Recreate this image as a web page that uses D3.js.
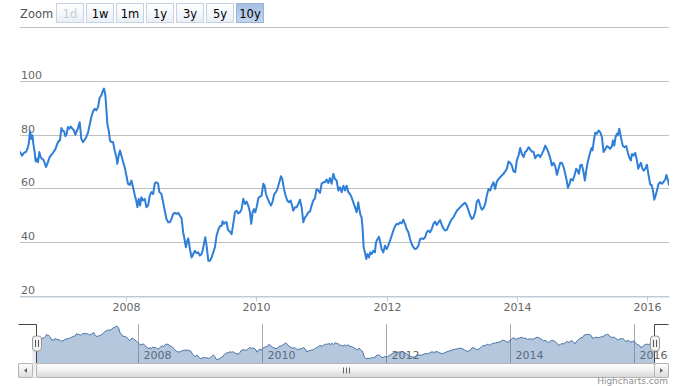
<!DOCTYPE html>
<html><head><meta charset="utf-8">
<script src="https://cdn.jsdelivr.net/npm/d3@7"></script>
<style>
html,body{margin:0;padding:0;background:#fff;}
svg{display:block;font-family:"DejaVu Sans",Verdana,sans-serif;}
</style></head><body>
<svg id="c" width="688" height="386"></svg>
<script>
// decimal-year dates and values
const dates = [
2006.358,2006.389,2006.419,2006.455,2006.481,2006.496,2006.512,2006.532,2006.548,2006.563,2006.583,2006.599,2006.619,2006.635,2006.655,2006.676,2006.696,2006.717,2006.737,2006.758,2006.778,2006.814,2006.865,2006.901,2006.932,2006.953,2006.973,2006.994,2007.014,2007.035,2007.055,2007.076,2007.096,2007.117,2007.137,2007.163,2007.189,2007.209,2007.230,2007.250,2007.276,2007.301,2007.327,2007.353,2007.378,2007.404,2007.430,2007.455,2007.481,2007.507,2007.532,2007.558,2007.583,2007.609,2007.635,2007.650,2007.671,2007.686,2007.701,2007.722,2007.742,2007.763,2007.789,2007.814,2007.840,2007.855,2007.876,2007.896,2007.917,2007.942,2007.968,2007.994,2008.019,2008.045,2008.071,2008.096,2008.122,2008.148,2008.163,2008.183,2008.204,2008.224,2008.250,2008.276,2008.301,2008.327,2008.353,2008.378,2008.404,2008.430,2008.455,2008.481,2008.501,2008.532,2008.558,2008.583,2008.609,2008.635,2008.660,2008.686,2008.712,2008.737,2008.763,2008.789,2008.814,2008.840,2008.865,
2008.876,2008.907,2008.928,2008.943,2008.969,2008.994,2009.020,2009.046,2009.071,2009.097,2009.122,2009.148,2009.163,2009.184,2009.205,2009.225,2009.251,2009.276,2009.302,2009.328,2009.353,2009.379,2009.405,2009.430,2009.456,2009.471,2009.492,2009.512,2009.533,2009.553,2009.584,2009.610,2009.635,2009.661,2009.687,2009.712,2009.738,2009.763,2009.789,2009.815,2009.840,2009.866,2009.892,2009.912,2009.933,2009.953,2009.974,2009.994,2010.020,2010.046,2010.071,2010.097,2010.117,2010.138,2010.163,2010.189,2010.215,2010.240,2010.266,2010.292,2010.317,2010.343,2010.369,2010.389,2010.415,2010.440,2010.466,2010.492,2010.517,2010.533,2010.558,2010.584,2010.610,2010.635,2010.661,2010.687,2010.712,2010.738,2010.763,2010.789,2010.815,2010.840,2010.866,2010.892,2010.917,2010.943,2010.969,2010.994,2011.020,2011.046,2011.071,2011.097,2011.122,2011.148,2011.174,2011.199,2011.225,2011.251,2011.276,2011.302,2011.328,2011.353,2011.379,2011.405,
2011.430,2011.455,2011.481,2011.507,2011.532,2011.558,2011.573,2011.594,2011.609,2011.625,2011.640,2011.660,2011.681,2011.701,2011.722,2011.743,2011.763,2011.789,2011.814,2011.830,2011.855,2011.876,2011.896,2011.917,2011.943,2011.968,2011.994,2012.019,2012.045,2012.071,2012.096,2012.122,2012.148,2012.173,2012.199,2012.225,2012.250,2012.276,2012.301,2012.327,2012.353,2012.378,2012.404,2012.430,2012.455,2012.481,2012.507,2012.532,2012.558,2012.584,2012.609,2012.635,2012.660,2012.686,2012.712,2012.737,2012.763,2012.789,2012.814,2012.840,2012.866,2012.891,2012.917,2012.943,2012.968,2012.994,2013.019,2013.045,2013.071,2013.096,2013.122,2013.148,2013.173,2013.199,2013.225,2013.250,2013.276,2013.301,2013.327,2013.353,2013.378,2013.404,2013.430,2013.455,2013.481,2013.507,2013.532,2013.558,2013.584,2013.609,2013.635,2013.660,2013.686,2013.712,2013.737,2013.763,2013.789,2013.814,2013.840,2013.866,2013.891,2013.917,2013.943,
2013.969,2013.994,2014.020,2014.046,2014.071,2014.097,2014.122,2014.148,2014.174,2014.199,2014.225,2014.251,2014.276,2014.302,2014.328,2014.353,2014.379,2014.405,2014.430,2014.456,2014.482,2014.507,2014.533,2014.558,2014.584,2014.610,2014.635,2014.661,2014.687,2014.712,2014.738,2014.764,2014.779,2014.805,2014.825,2014.856,2014.882,2014.907,2014.928,2014.948,2014.969,2014.994,2015.020,2015.040,2015.061,2015.082,2015.102,2015.123,2015.143,2015.158,2015.179,2015.199,2015.225,2015.251,2015.276,2015.302,2015.328,2015.353,2015.379,2015.405,2015.430,2015.456,2015.471,2015.492,2015.512,2015.533,2015.548,2015.569,2015.584,2015.599,2015.625,2015.651,2015.676,2015.702,2015.728,2015.748,2015.764,2015.789,2015.815,2015.840,2015.861,2015.882,2015.902,2015.923,2015.943,2015.969,2015.994,2016.020,2016.046,2016.066,2016.087,2016.107,2016.128,2016.148,2016.174,2016.199,2016.225,2016.251,2016.276,2016.292,2016.312,2016.333
];
const values = [
73.7,72.4,73.4,73.9,75.5,77.4,81.4,78.6,79.9,76.8,73.7,70.2,71.2,69.9,73.7,71.8,71.2,70.9,69.7,68.1,69.3,71.8,73.4,74.7,76.8,77.8,78.0,82.6,81.7,81.4,79.6,80.5,83.0,82.4,83.2,82.4,81.7,80.1,81.4,82.6,84.8,78.6,77.4,78.3,79.3,80.9,83.9,86.7,88.8,89.8,89.2,90.4,93.8,94.8,96.6,97.3,94.8,89.8,84.2,81.7,78.0,77.4,77.4,74.3,71.8,69.3,72.4,74.3,72.4,70.2,68.1,65.0,61.9,61.5,63.1,60.6,57.8,55.3,53.2,56.3,53.8,56.9,55.7,56.3,53.2,53.8,57.5,58.8,58.1,62.1,62.5,61.9,58.8,58.1,55.0,51.9,48.8,47.6,47.6,48.8,50.7,51.1,50.7,51.1,50.1,49.1,43.9,
42.6,38.3,40.7,41.6,37.6,34.5,35.8,37.0,36.1,36.4,35.2,35.8,37.0,39.5,42.0,38.9,33.3,33.3,34.5,36.4,38.3,42.6,44.8,46.1,46.3,48.0,47.0,47.6,47.6,44.8,44.1,43.2,47.0,51.3,51.9,50.9,51.3,52.5,56.3,54.4,55.3,53.8,51.3,47.0,51.3,52.5,51.3,53.2,56.5,57.1,57.5,61.9,61.2,58.1,56.5,55.0,53.8,55.3,58.1,58.8,60.2,62.5,64.7,63.7,60.0,57.5,55.7,55.0,55.7,54.4,51.9,53.2,53.2,54.4,56.0,53.2,47.6,49.4,50.1,51.3,51.6,53.8,55.7,56.5,60.0,59.4,58.5,61.9,62.5,62.5,63.5,62.2,64.0,61.9,65.6,63.7,63.1,59.4,60.6,58.8,61.2,59.4,61.2,58.8,
58.1,56.9,55.0,53.2,51.3,55.0,52.5,50.1,49.4,45.1,38.3,36.4,33.9,35.8,34.5,36.4,35.8,37.0,36.4,40.1,41.4,42.2,40.1,37.6,36.4,38.9,37.6,38.9,40.7,42.6,44.5,46.1,47.0,46.8,47.6,47.2,48.6,47.0,45.1,43.9,41.4,39.5,38.3,37.6,37.9,38.9,41.4,41.6,41.4,42.0,43.9,44.5,43.9,45.1,47.0,47.8,46.6,47.6,48.4,46.6,45.3,44.5,44.8,46.3,47.6,48.8,49.4,50.7,51.9,52.5,53.2,53.8,54.4,54.8,53.8,51.9,50.1,48.8,49.4,51.3,55.3,56.0,53.8,52.3,52.8,54.4,57.5,60.0,59.4,61.2,62.5,60.0,62.7,63.7,64.3,65.0,65.6,66.5,67.5,70.2,69.7,68.7,66.5,
66.2,70.6,72.4,75.2,73.0,71.8,73.7,74.3,75.5,74.7,73.9,73.7,71.4,72.4,72.7,71.8,73.0,74.3,76.1,74.9,73.4,71.4,68.7,69.7,68.4,65.2,67.5,69.7,69.7,68.1,65.6,62.7,60.4,61.9,63.7,63.1,65.2,67.5,66.8,65.6,68.7,69.0,66.2,63.1,66.8,69.7,71.8,73.7,75.2,74.3,78.0,80.9,80.5,81.7,81.1,79.3,73.7,74.7,75.9,75.5,74.9,75.9,78.0,76.1,79.3,80.5,79.9,82.4,80.5,78.6,75.9,75.5,75.9,73.4,71.4,70.6,73.0,72.4,73.4,70.6,67.5,68.7,69.7,67.7,66.8,67.5,69.0,65.0,61.5,61.5,59.4,56.0,57.5,59.4,61.9,62.5,61.9,62.7,63.5,65.2,63.7,61.5
];
const yTicks = [20, 40, 60, 80, 100, 120];
const yTickLabels = ["20", "40", "60", "80", "100", ""];
const xTickYears = [2008, 2010, 2012, 2014, 2016];
const zoomButtons = ["1d", "1w", "1m", "1y", "3y", "5y", "10y"];
const selectedButton = "10y";
const disabledButtons = ["1d"];

function decToDate(t) {
  const y = Math.floor(t);
  const a = Date.UTC(y, 0, 1), b = Date.UTC(y + 1, 0, 1);
  return new Date(a + (t - y) * (b - a));
}
const data = dates.map((t, i) => ({ date: decToDate(t), value: values[i] }));
const tickDates = xTickYears.map(y => new Date(Date.UTC(y, 0, 1)));

const svg = d3.select("#c");
const defs = svg.append("defs");
function grad(id, stops) {
  const g = defs.append("linearGradient").attr("id", id).attr("x1", 0).attr("y1", 0).attr("x2", 0).attr("y2", 1);
  stops.forEach(s => g.append("stop").attr("offset", s[0]).attr("stop-color", s[1]));
}
grad("btn", [[0, "#ffffff"], [1, "#e9eff7"]]);
grad("btnSel", [[0, "#a4bfe4"], [1, "#c3d6ef"]]);
grad("thumb", [[0, "#ffffff"], [0.5, "#f0f0f0"], [1, "#d6d6d6"]]);
grad("sbtn", [[0, "#ffffff"], [1, "#dcdcdc"]]);
grad("track", [[0, "#eeeeee"], [1, "#f6f6f6"]]);

const plotL = 20, plotR = 669, plotT = 27.5, plotB = 296.5;
const x = d3.scaleUtc().domain(d3.extent(data, d => d.date)).range([plotL, plotR]);
const y = d3.scaleLinear().domain([20, 120]).range([plotB, plotT]);
const snap = v => Math.round(v - 0.5) + 0.5;

// ---- range selector ----
svg.append("text").attr("x", 20).attr("y", 18).attr("font-size", "11.5px").attr("fill", "#555").text("Zoom");
const bg = svg.append("g");
zoomButtons.forEach((b, i) => {
  const bx = 56.5 + i * 30;
  const sel = b === selectedButton, dis = disabledButtons.includes(b);
  bg.append("rect").attr("x", bx).attr("y", 3.5).attr("width", 27).attr("height", 19)
    .attr("fill", sel ? "url(#btnSel)" : "url(#btn)")
    .attr("stroke", sel ? "#9bb3d4" : "#c6d2e2").attr("stroke-width", 1);
  bg.append("text").attr("x", bx + 13.5).attr("y", 18).attr("text-anchor", "middle")
    .attr("font-size", "11.5px").attr("fill", dis ? "#cccccc" : "#000").text(b);
});

// ---- main plot grid (y) ----
const yAxis = d3.axisRight(y).tickValues(yTicks).tickSize(plotR - plotL)
  .tickFormat((d, i) => yTickLabels[i]);
const yg = svg.append("g").attr("transform", `translate(${plotL},0)`).call(yAxis);
yg.select(".domain").remove();
yg.selectAll(".tick").attr("transform", d => `translate(0,${snap(y(d))})`);
yg.selectAll(".tick line").attr("stroke", "#c0c0c0").attr("stroke-width", 1);
yg.selectAll(".tick text").attr("x", 1).attr("y", -3).attr("dy", null)
  .attr("text-anchor", "start").attr("font-size", "11px").attr("fill", "#666")
  .attr("font-family", "DejaVu Sans, Verdana, sans-serif");

// ---- x axis ----
const xAxis = d3.axisBottom(x).tickValues(tickDates).tickFormat(d3.utcFormat("%Y")).tickSize(5).tickSizeOuter(0);
const xg = svg.append("g").attr("transform", `translate(0,${plotB})`).call(xAxis);
xg.select(".domain").attr("stroke", "#c0d0e0");
xg.selectAll(".tick").attr("transform", d => `translate(${snap(x(d))},0)`);
xg.selectAll(".tick line").attr("stroke", "#c0d0e0");
xg.selectAll(".tick text").attr("y", 14).attr("dy", null).attr("font-size", "11px").attr("fill", "#666")
  .attr("font-family", "DejaVu Sans, Verdana, sans-serif");

// ---- main line ----
svg.append("defs").append("clipPath").attr("id", "plotClip").append("rect")
  .attr("x", plotL).attr("y", 0).attr("width", plotR - plotL).attr("height", plotB + 2);
const line = d3.line().x(d => x(d.date)).y(d => y(d.value)).curve(d3.curveLinear);
svg.append("path").datum(data).attr("clip-path", "url(#plotClip)")
  .attr("d", line).attr("fill", "none").attr("stroke", "#2f7ed8").attr("stroke-width", 2)
  .attr("stroke-linejoin", "round").attr("stroke-linecap", "round");

// ---- navigator ----
const navT = 324, navB = 363, navL = 37, navR = 655;
const nx = d3.scaleUtc().domain(x.domain()).range([navL, navR]);
const vExt = d3.extent(values);
const ny = d3.scaleLinear().domain([vExt[0] - 7, vExt[1] + 4]).range([navB, navT]);

const navAxis = d3.axisBottom(nx).tickValues(tickDates).tickFormat(d3.utcFormat("%Y")).tickSize(-(navB - navT)).tickSizeOuter(0);
const ng = svg.append("g").attr("transform", `translate(0,${navB})`).call(navAxis);
ng.select(".domain").remove();
ng.selectAll(".tick").attr("transform", d => `translate(${snap(nx(d))},0)`);
ng.selectAll(".tick line").attr("stroke", "#a8a8a8");
ng.selectAll(".tick text").attr("x", 5).attr("y", -4).attr("dy", null).attr("text-anchor", "start")
  .attr("font-size", "11px").attr("fill", "#666").attr("font-family", "DejaVu Sans, Verdana, sans-serif");

const area = d3.area().x(d => nx(d.date)).y0(navB).y1(d => ny(d.value));
svg.append("path").datum(data).attr("d", area).attr("fill", "#4572a7").attr("fill-opacity", 0.4);
const nline = d3.line().x(d => nx(d.date)).y(d => ny(d.value));
svg.append("path").datum(data).attr("d", nline).attr("fill", "none").attr("stroke", "#4572a7").attr("stroke-width", 1);

// left mask strip
svg.append("rect").attr("x", 32.5).attr("y", 345).attr("width", 4).attr("height", 18).attr("fill", "#e6ebf2");

// outline
svg.append("path").attr("d", `M18.5,${navT + 0.5}H${navL - 0.5}V${navB}M${navR - 0.5},${navB}V${navT + 0.5}H668.5`)
  .attr("fill", "none").attr("stroke", "#444").attr("stroke-width", 1);

// ---- scrollbar ----
const sbT = 363.5, sbH = 14;
svg.append("rect").attr("x", 18.5).attr("y", sbT).attr("width", 650).attr("height", sbH).attr("fill", "url(#track)").attr("stroke", "#d6d6d6");
svg.append("rect").attr("x", navL - 0.5).attr("y", sbT).attr("width", navR - navL).attr("height", sbH).attr("rx", 2)
  .attr("fill", "url(#thumb)").attr("stroke", "#b4b4b4");
const gx = Math.round((navL + navR) / 2);
[-3, 0, 3].forEach(o => svg.append("line").attr("x1", gx + o + 0.5).attr("x2", gx + o + 0.5)
  .attr("y1", sbT + 4).attr("y2", sbT + 10).attr("stroke", "#666"));
// buttons
[[18.5, "L"], [654.5, "R"]].forEach(([bx, dir]) => {
  svg.append("rect").attr("x", bx).attr("y", sbT).attr("width", 14).attr("height", sbH).attr("rx", 2)
    .attr("fill", "url(#sbtn)").attr("stroke", "#b4b4b4");
  const cx = bx + 7, cy = sbT + 7;
  const p = dir === "L" ? `M${cx + 1.5},${cy - 2.5}L${cx - 1.5},${cy}L${cx + 1.5},${cy + 2.5}Z`
                        : `M${cx - 1.5},${cy - 2.5}L${cx + 1.5},${cy}L${cx - 1.5},${cy + 2.5}Z`;
  svg.append("path").attr("d", p).attr("fill", "#666");
});

// ---- handles ----
[navL, navR].forEach(hx => {
  const h = svg.append("g").attr("transform", `translate(${Math.round(hx)},${Math.round((navT + navB) / 2)})`);
  h.append("rect").attr("x", -4.5).attr("y", -8).attr("width", 9).attr("height", 15).attr("rx", 3)
    .attr("fill", "#f2f2f2").attr("stroke", "#999");
  h.append("line").attr("x1", -1.5).attr("x2", -1.5).attr("y1", -4).attr("y2", 3).attr("stroke", "#555");
  h.append("line").attr("x1", 1.5).attr("x2", 1.5).attr("y1", -4).attr("y2", 3).attr("stroke", "#555");
});

// ---- credits ----
svg.append("text").attr("x", 668).attr("y", 384).attr("text-anchor", "end")
  .attr("font-size", "9px").attr("fill", "#909090").text("Highcharts.com");
</script>
</body></html>
